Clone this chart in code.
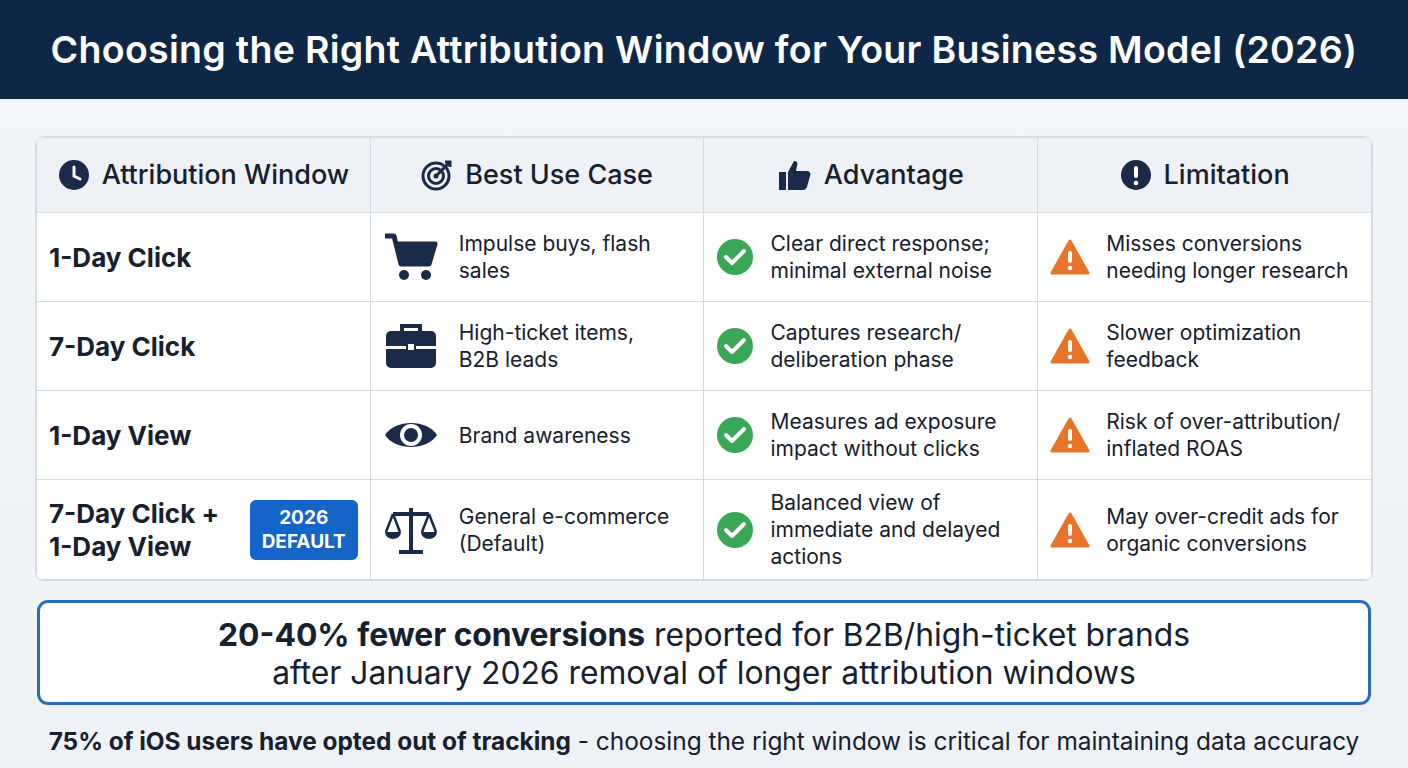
<!DOCTYPE html>
<html><head><meta charset="utf-8">
<script src="https://cdn.jsdelivr.net/npm/chart.js@4.4.1/dist/chart.umd.min.js"></script>
<style>
body{margin:0;width:1408px;height:768px;background:linear-gradient(#f4f7fa,#eef2f6);font-family:Inter,"Noto Sans",sans-serif;color:#16202e;overflow:hidden;position:relative}
#title{height:99px;background:#0f2747;color:#fff;font-size:37.5px;font-weight:600;display:flex;align-items:center;justify-content:center;letter-spacing:0.3px}
#tbl{position:absolute;left:36px;top:137px;width:1336px;border-collapse:collapse;background:#fff;border-radius:8px;overflow:hidden;box-shadow:0 0 0 1px #d5dbe3}
#tbl td,#tbl th{border:1px solid #d5dbe3;width:334px;box-sizing:border-box;padding:0 12px;vertical-align:middle}
#tbl th{height:75px;background:#eef1f5;font-size:27px;font-weight:500;text-align:center;padding-top:6px}
#tbl th span{display:inline-flex;align-items:center;gap:12px}
#tbl td{height:89px;font-size:21px;line-height:27px}
#tbl tr:last-child td{height:100px}
#tbl td.lab{font-weight:700;font-size:26px;padding-left:12px;line-height:33px}
.cell{display:flex;align-items:center;gap:16px}
.badge{background:#1565c8;color:#fff;font-weight:700;font-size:19px;line-height:24px;text-align:center;border-radius:6px;padding:6px 12px;margin-left:auto}
#call{position:absolute;left:37px;top:600px;width:1334px;height:105px;box-sizing:border-box;border:3px solid #2a6db5;border-radius:11px;background:#fff;text-align:center;font-size:31.8px;line-height:38px;padding-top:13px}
#foot{position:absolute;left:0;width:1408px;top:726px;text-align:center;font-size:24.4px}
</style></head><body>
<div id="title">Choosing the Right Attribution Window for Your Business Model (2026)</div>
<table id="tbl"><thead><tr id="head"></tr></thead><tbody id="body"></tbody></table>
<div id="call"><b>20-40% fewer conversions</b> reported for B2B/high-ticket brands<br>after January 2026 removal of longer attribution windows</div>
<div id="foot"><b>75% of iOS users have opted out of tracking</b> - choosing the right window is critical for maintaining data accuracy</div>
<script>
const headers = ['Attribution Window', 'Best Use Case', 'Advantage', 'Limitation'];
const windows = ['1-Day Click', '7-Day Click', '1-Day View', '7-Day Click +<br>1-Day View'];
const useCases = ['Impulse buys, flash<br>sales', 'High-ticket items,<br>B2B leads', 'Brand awareness', 'General e-commerce<br>(Default)'];
const advantages = ['Clear direct response;<br>minimal external noise', 'Captures research/<br>deliberation phase', 'Measures ad exposure<br>impact without clicks', 'Balanced view of<br>immediate and delayed<br>actions'];
const limitations = ['Misses conversions<br>needing longer research', 'Slower optimization<br>feedback', 'Risk of over-attribution/<br>inflated ROAS', 'May over-credit ads for<br>organic conversions'];

const N = '#1a2b4a';
const headIcons = [
  `<svg width="32" height="32" viewBox="0 0 32 32"><circle cx="16" cy="16" r="15" fill="${N}"/><path d="M16 8v9l6 3" stroke="#fff" stroke-width="3" fill="none" stroke-linecap="round"/></svg>`,
  `<svg width="32" height="32" viewBox="0 0 32 32"><circle cx="15" cy="17" r="13" stroke="${N}" stroke-width="3" fill="none"/><circle cx="15" cy="17" r="7.5" stroke="${N}" stroke-width="3" fill="none"/><circle cx="15" cy="17" r="2.5" fill="${N}"/><path d="M15 17L28 4M24 3l5 0 0 5" stroke="${N}" stroke-width="3" fill="none"/></svg>`,
  `<svg width="34" height="32" viewBox="0 0 34 32"><rect x="1" y="13" width="7" height="18" fill="${N}"/><path d="M10 13l6-11c3 0 4 2 3 5l-1 5h11c3 0 4 3 3 5l-3 11c-1 2-2 3-4 3H10z" fill="${N}"/></svg>`,
  `<svg width="32" height="32" viewBox="0 0 32 32"><circle cx="16" cy="16" r="15" fill="${N}"/><rect x="14" y="7" width="4" height="12" rx="2" fill="#fff"/><circle cx="16" cy="24" r="2.3" fill="#fff"/></svg>`
];
const useIcons = [
  `<svg width="56" height="50" viewBox="0 0 56 50"><path d="M2 4h9l7 28h28l6-20H14" stroke="${N}" stroke-width="5" fill="none" stroke-linejoin="round"/><path d="M14 12h38l-6 20H18z" fill="${N}"/><circle cx="21" cy="43" r="5" fill="${N}"/><circle cx="43" cy="43" r="5" fill="${N}"/></svg>`,
  `<svg width="56" height="50" viewBox="0 0 56 50"><path d="M19 10V5h18v5" stroke="${N}" stroke-width="4" fill="none"/><rect x="3" y="10" width="50" height="37" rx="5" fill="${N}"/><rect x="3" y="25" width="50" height="3" fill="#fff"/><rect x="24" y="22" width="8" height="8" rx="1" fill="#fff" stroke="${N}" stroke-width="2"/></svg>`,
  `<svg width="56" height="40" viewBox="0 0 56 40"><path d="M2 20C12 4 44 4 54 20C44 36 12 36 2 20z" fill="${N}"/><circle cx="28" cy="20" r="11" fill="#fff"/><circle cx="28" cy="20" r="7" fill="${N}"/></svg>`,
  `<svg width="56" height="52" viewBox="0 0 56 52"><path d="M28 4v42M10 10h36M16 48h24" stroke="${N}" stroke-width="4" fill="none"/><path d="M10 10L3 28M10 10l7 18M46 10l-7 18M46 10l7 18" stroke="${N}" stroke-width="2.5" fill="none"/><path d="M2 28h16a8 7 0 0 1-16 0zM38 28h16a8 7 0 0 1-16 0z" fill="${N}"/></svg>`
];
const check = `<svg width="38" height="38" viewBox="0 0 38 38" style="flex:none"><circle cx="19" cy="19" r="18" fill="#3aa757"/><path d="M10 19l6 6 12-12" stroke="#fff" stroke-width="4" fill="none" stroke-linecap="round" stroke-linejoin="round"/></svg>`;
const warn = `<svg width="40" height="36" viewBox="0 0 40 36" style="flex:none"><path d="M20 2L38 34H2z" fill="#e8742a" stroke="#e8742a" stroke-width="3" stroke-linejoin="round"/><rect x="18" y="12" width="4" height="12" rx="2" fill="#fff"/><circle cx="20" cy="29" r="2.3" fill="#fff"/></svg>`;

document.getElementById('head').innerHTML = headers.map((h, i) => `<th><span>${headIcons[i]}${h}</span></th>`).join('');
document.getElementById('body').innerHTML = windows.map((w, i) => `<tr>
  <td class="lab"><div class="cell"><div>${w}</div>${i === 3 ? '<div class="badge">2026<br>DEFAULT</div>' : ''}</div></td>
  <td><div class="cell" style="gap:20px">${useIcons[i]}<div>${useCases[i]}</div></div></td>
  <td><div class="cell">${check}<div>${advantages[i]}</div></div></td>
  <td><div class="cell">${warn}<div>${limitations[i]}</div></div></td>
</tr>`).join('');
</script>
</body></html>
